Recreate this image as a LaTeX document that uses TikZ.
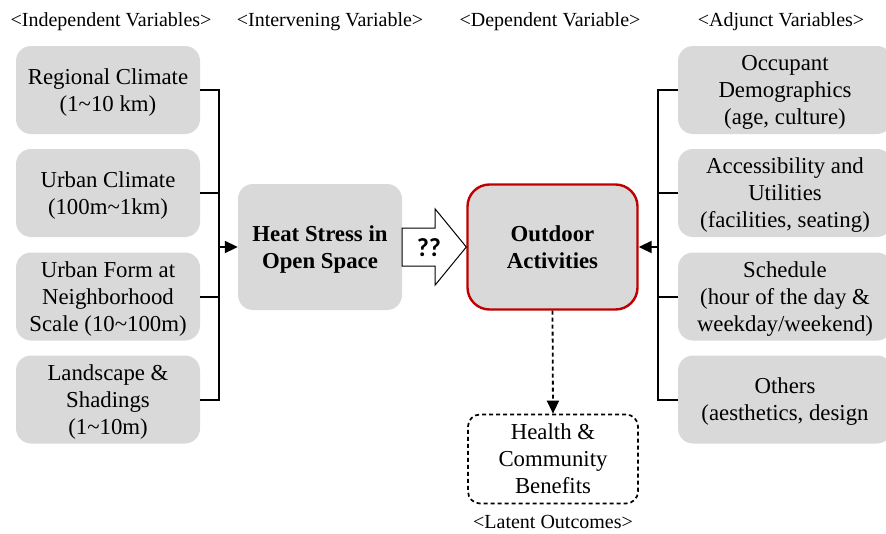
\documentclass[tikz,border=0pt]{standalone}
\usepackage{fontspec}
\setmainfont{Liberation Serif}
\newfontfamily\qfont{Carlito}
\usetikzlibrary{arrows.meta,calc}
\definecolor{boxgray}{HTML}{D9D9D9}
\definecolor{darkred}{HTML}{C00000}
\begin{document}
\begin{tikzpicture}[x=1pt,y=-1pt,
  every node/.style={font=\fontsize{22.8}{27}\selectfont, align=center, inner sep=0pt},
  lift/.style={text depth=0pt, execute at begin node={\rule{0pt}{20pt}}},
  gbox/.style={fill=boxgray, rounded corners=15pt, minimum height=88pt, lift},
  lbox/.style={gbox, minimum width=184pt},
  rbox/.style={gbox, minimum width=214pt},
  hdr/.style={font=\fontsize{20}{24}\selectfont, text depth=0pt, execute at begin node={\rule{0pt}{16pt}}},
  conn/.style={line width=2pt},
  tip/.style={-{Triangle[length=13pt,width=12pt]}},
]
\useasboundingbox (0,0) rectangle (886,533);
\clip (0,0) rectangle (886,533);
% headers
\node[hdr] (h1) at (111,18) {<Independent Variables>};
\node[hdr] (h2) at (330,18) {<Intervening Variable>};
\node[hdr] (h3) at (550,18) {<Dependent Variable>};
\node[hdr] (h4) at (781,18) {<Adjunct Variables>};
% left boxes
\node[lbox] (l1) at (108,90) {Regional Climate\\(1\textasciitilde 10 km)};
\node[lbox] (l2) at (108,193) {Urban Climate\\(100m\textasciitilde 1km)};
\node[lbox] (l3) at (108,296.5) {Urban Form at\\Neighborhood\\Scale (10\textasciitilde 100m)};
\node[lbox] (l4) at (108,399.5) {Landscape \&\\Shadings\\(1\textasciitilde 10m)};
% right boxes
\node[rbox] (r1) at (785,90) {Occupant\\Demographics\\(age, culture)};
\node[rbox] (r2) at (785,193) {Accessibility and\\Utilities\\(facilities, seating)};
\node[rbox] (r3) at (785,296.5) {Schedule\\(hour of the day \&\\weekday/weekend)};
\node[rbox] (r4) at (785,399.5) {Others\\(aesthetics, design};
% center boxes
\node[fill=boxgray, rounded corners=15pt, minimum width=164pt, minimum height=126pt, lift,
      font=\fontsize{22.8}{27}\selectfont\bfseries] (heat) at (320,247) {Heat Stress in\\Open Space};
\node[fill=boxgray, draw=darkred, line width=2.4pt, rounded corners=22pt, minimum width=170pt, minimum height=125pt,
      text depth=0pt, font=\fontsize{22.8}{27}\selectfont\bfseries] (out) at (552.5,247) {Outdoor\\Activities};
\node[draw, dashed, dash pattern=on 4pt off 3pt, line width=1.7pt, rounded corners=12pt,
      minimum width=170pt, minimum height=89pt] (health) at (553,459) {Health \&\\Community\\Benefits};
\node[font=\fontsize{20}{24}\selectfont] (h5) at (553,522) {<Latent Outcomes>};
% left bracket
\coordinate (jl) at (219,247);
\draw[conn] (l1.east) -| (jl);
\draw[conn] (l4.east) -| (jl);
\draw[conn] (l2.east) -- (l2.east -| jl);
\draw[conn] (l3.east) -- (l3.east -| jl);
\draw[conn,tip] (jl) -- (heat.west);
% right bracket
\coordinate (jr) at (658,247);
\draw[conn] (r1.west) -| (jr);
\draw[conn] (r4.west) -| (jr);
\draw[conn] (r2.west) -- (r2.west -| jr);
\draw[conn] (r3.west) -- (r3.west -| jr);
\draw[conn,tip] (jr) -- (out.east);
% block arrow
\draw[line width=1pt, fill=white] ($(heat.east)+(0,-19)$) -- ($(heat.east)+(33,-19)$) -- ($(heat.east)+(33,-38)$)
  -- (out.west) -- ($(heat.east)+(33,38)$) -- ($(heat.east)+(33,19)$) -- ($(heat.east)+(0,19)$) -- cycle;
\node[font=\qfont\fontsize{26}{28}\selectfont\bfseries] (qq) at (429,248) {??};
% dashed arrow
\draw[line width=1.8pt, dashed, dash pattern=on 4pt off 3pt, tip] (out.south) -- (health.north);
\end{tikzpicture}
\end{document}
